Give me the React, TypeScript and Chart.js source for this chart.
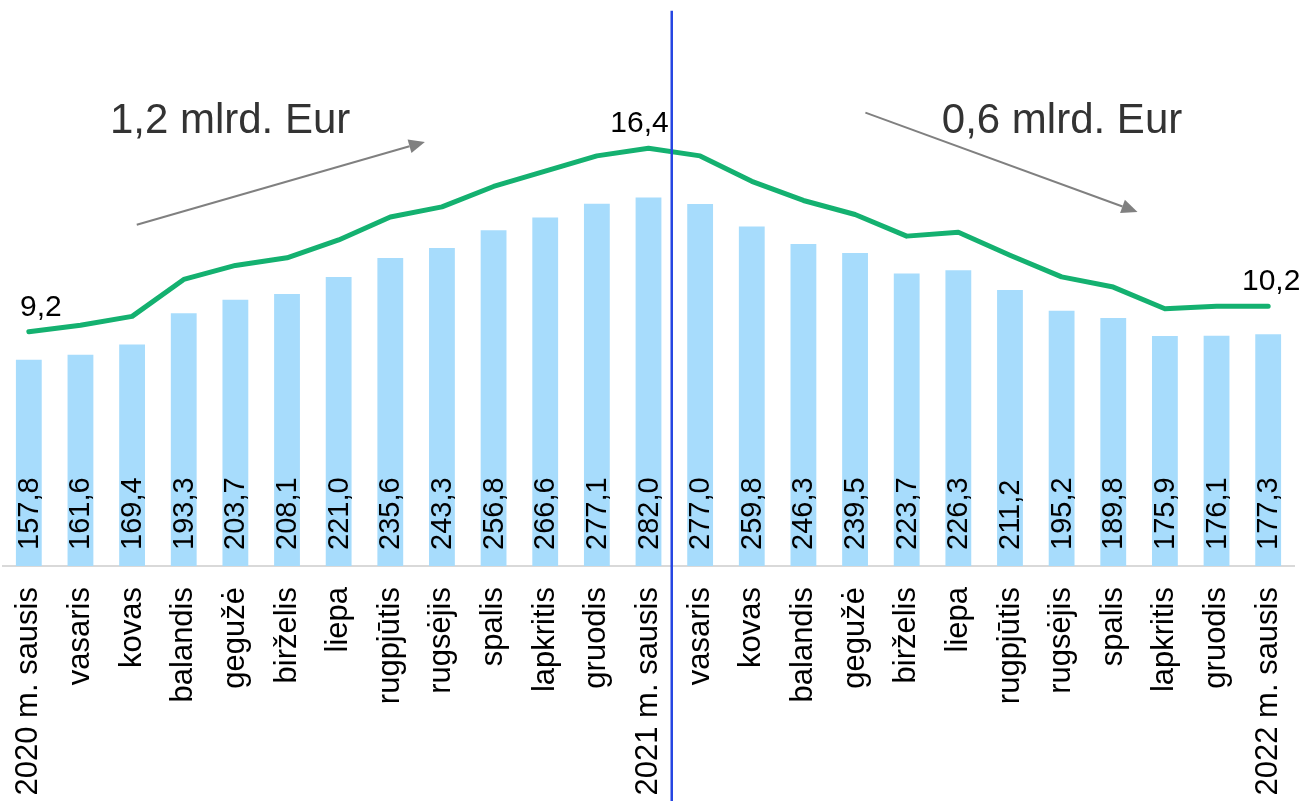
import React, { useEffect, useRef } from 'react';
import { Chart, registerables } from 'chart.js';

Chart.register(...registerables);

const categories = [
  '2020 m. sausis', 'vasaris', 'kovas', 'balandis', 'gegužė', 'birželis', 'liepa',
  'rugpjūtis', 'rugsėjis', 'spalis', 'lapkritis', 'gruodis', '2021 m. sausis',
  'vasaris', 'kovas', 'balandis', 'gegužė', 'birželis', 'liepa', 'rugpjūtis',
  'rugsėjis', 'spalis', 'lapkritis', 'gruodis', '2022 m. sausis',
];

const barValues = [
  157.8, 161.6, 169.4, 193.3, 203.7, 208.1, 221.0, 235.6, 243.3, 256.8, 266.6, 277.1, 282.0,
  277.0, 259.8, 246.3, 239.5, 223.7, 226.3, 211.2, 195.2, 189.8, 175.9, 176.1, 177.3,
];

const lineValues = [
  9.2, 9.45, 9.8, 11.25, 11.8, 12.1, 12.8, 13.7, 14.1, 14.9, 15.5, 16.1, 16.4,
  16.1, 15.1, 14.35, 13.8, 12.95, 13.1, 12.2, 11.35, 10.95, 10.1, 10.2, 10.2,
];

const lineLabelIndexes = [0, 12, 24];
const lineLabelShift = [0, -9, 3];

// annotations in data coordinates (category index, secondary-axis value)
const annotationTexts = ['1,2 mlrd. Eur', '0,6 mlrd. Eur'];
const annotationX = [1.57, 17.68];
const annotationY = [17.0, 17.0];

const arrowStartX = [2.09, 16.2];
const arrowStartY = [13.4, 17.8];
const arrowEndX = [7.67, 21.47];
const arrowEndY = [16.65, 13.9];

const dividerIndex = 12.45;
const dividerTop = 21.8;

const FONT = '"Liberation Sans", Arial, Helvetica, sans-serif';

const fmt = (v: number) => v.toFixed(1).replace('.', ',');

const idxToPx = (scale: any, v: number) => {
  const i = Math.floor(v);
  const f = v - i;
  const a = scale.getPixelForValue(i);
  const b = scale.getPixelForValue(i + 1);
  return a + (b - a) * f;
};

const overlayPlugin = {
  id: 'overlay',
  afterDatasetsDraw(chart: any) {
    const ctx = chart.ctx;
    const xs = chart.scales.x;
    const ys = chart.scales.y;
    const y2 = chart.scales.y2;
    const base = ys.getPixelForValue(0);
    ctx.save();
    // bar value labels (rotated)
    ctx.font = `29px ${FONT}`;
    ctx.fillStyle = '#000000';
    ctx.textAlign = 'left';
    ctx.textBaseline = 'middle';
    barValues.forEach((v, i) => {
      const px = xs.getPixelForValue(i);
      ctx.save();
      ctx.translate(px, base - 16);
      ctx.rotate(-Math.PI / 2);
      ctx.fillText(fmt(v), 0, 1);
      ctx.restore();
    });
    // line labels
    ctx.font = `30px ${FONT}`;
    ctx.textAlign = 'center';
    ctx.textBaseline = 'alphabetic';
    lineLabelIndexes.forEach((i, k) => {
      const px = xs.getPixelForValue(i) + lineLabelShift[k];
      const py = y2.getPixelForValue(lineValues[i]);
      const t = fmt(lineValues[i]);
      const w = ctx.measureText(t).width;
      let cx = Math.max(px, 20 + w / 2);
      cx = Math.min(cx, chart.width - 5 - w / 2);
      ctx.fillText(t, cx, py - 16);
    });
    ctx.restore();
  },
  afterDraw(chart: any) {
    const ctx = chart.ctx;
    const xs = chart.scales.x;
    const y2 = chart.scales.y2;
    ctx.save();
    // annotation texts
    ctx.font = `42px ${FONT}`;
    ctx.fillStyle = '#333333';
    ctx.textAlign = 'left';
    ctx.textBaseline = 'alphabetic';
    annotationTexts.forEach((t, i) => {
      ctx.fillText(t, idxToPx(xs, annotationX[i]), y2.getPixelForValue(annotationY[i]));
    });
    // arrows
    ctx.strokeStyle = '#808080';
    ctx.fillStyle = '#808080';
    ctx.lineWidth = 2;
    arrowStartX.forEach((_, i) => {
      const x1 = idxToPx(xs, arrowStartX[i]);
      const y1 = y2.getPixelForValue(arrowStartY[i]);
      const x2 = idxToPx(xs, arrowEndX[i]);
      const yy2 = y2.getPixelForValue(arrowEndY[i]);
      const ang = Math.atan2(yy2 - y1, x2 - x1);
      const hl = 16;
      const hw = 7;
      const bx = x2 - hl * Math.cos(ang);
      const by = yy2 - hl * Math.sin(ang);
      ctx.beginPath();
      ctx.moveTo(x1, y1);
      ctx.lineTo(bx, by);
      ctx.stroke();
      ctx.beginPath();
      ctx.moveTo(x2, yy2);
      ctx.lineTo(bx + hw * Math.sin(ang), by - hw * Math.cos(ang));
      ctx.lineTo(bx - hw * Math.sin(ang), by + hw * Math.cos(ang));
      ctx.closePath();
      ctx.fill();
    });
    // divider
    const dx = idxToPx(xs, dividerIndex);
    ctx.strokeStyle = '#2545e2';
    ctx.lineWidth = 2.5;
    ctx.beginPath();
    ctx.moveTo(dx, y2.getPixelForValue(dividerTop));
    ctx.lineTo(dx, chart.height);
    ctx.stroke();
    ctx.restore();
  },
};

export default function App() {
  const ref = useRef<HTMLCanvasElement | null>(null);
  useEffect(() => {
    if (!ref.current) return;
    const chart = new Chart(ref.current, {
      type: 'bar',
      data: {
        labels: categories,
        datasets: [
          {
            type: 'line',
            data: lineValues,
            yAxisID: 'y2',
            borderColor: '#14b170',
            borderWidth: 5,
            pointRadius: 0,
            tension: 0,
            borderCapStyle: 'round',
            borderJoinStyle: 'round',
            order: 0,
          } as any,
          {
            type: 'bar',
            data: barValues,
            yAxisID: 'y',
            backgroundColor: '#a7dcfc',
            barPercentage: 0.5,
            categoryPercentage: 1,
            order: 1,
          },
        ],
      },
      options: {
        responsive: false,
        animation: false,
        layout: { padding: { left: 3, right: 12, top: 0, bottom: 0 } },
        plugins: { legend: { display: false }, tooltip: { enabled: false } },
        scales: {
          x: {
            offset: true,
            grid: { display: false, drawTicks: false },
            border: { display: true, color: '#d9d9d9', width: 2 },
            ticks: {
              autoSkip: false,
              minRotation: 90,
              maxRotation: 90,
              padding: 21,
              color: '#000000',
              font: { family: FONT, size: 31 },
            },
            afterFit: (scale: any) => {
              scale.height = 235;
              scale.paddingLeft = 0;
              scale.paddingRight = 0;
            },
          },
          y: { display: false, min: 0, max: 433 },
          y2: { display: false, min: 0, max: 22.22, position: 'right' },
        },
      } as any,
      plugins: [overlayPlugin],
    });
    return () => chart.destroy();
  }, []);
  return (
    <canvas
      ref={ref}
      width={1306}
      height={801}
      style={{ position: 'absolute', left: 0, top: 0, width: 1306, height: 801, display: 'block' }}
    />
  );
}
